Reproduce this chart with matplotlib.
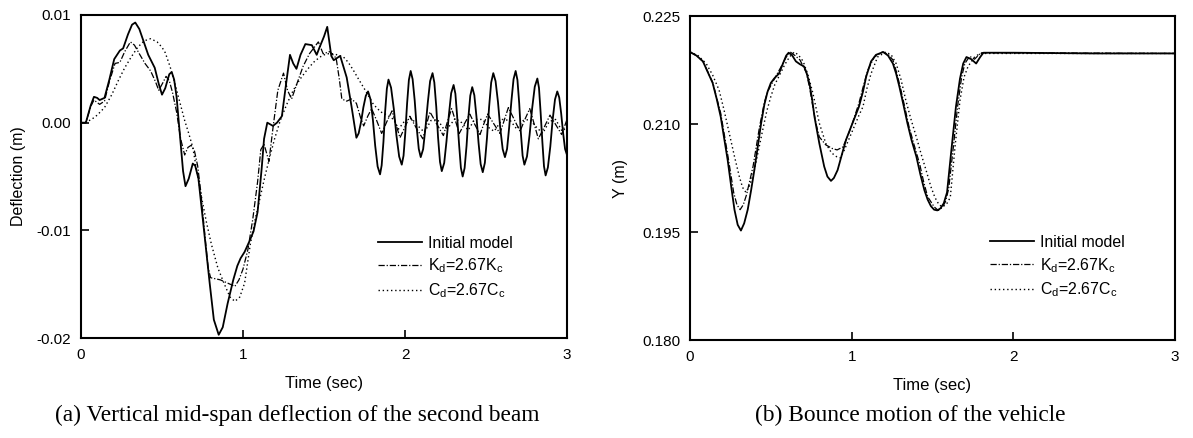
import matplotlib
matplotlib.use("Agg")
import matplotlib.pyplot as plt
import numpy as np

plt.rcParams['font.family'] = ['Liberation Sans', 'DejaVu Sans']
plt.rcParams['mathtext.fontset'] = 'custom'
plt.rcParams['mathtext.rm'] = 'Liberation Sans'
plt.rcParams['mathtext.it'] = 'Liberation Sans:italic'

# ---------------- Panel (a): mid-span deflection (values in mm, plotted in m) ----------------
a_init_t = [0.00, 0.03, 0.06, 0.08, 0.10, 0.115, 0.145, 0.175, 0.205, 0.24, 0.26, 0.29, 0.315, 0.335,
            0.36, 0.385, 0.415, 0.455, 0.48, 0.50, 0.52, 0.545, 0.56, 0.575, 0.59, 0.61, 0.63, 0.645,
            0.665, 0.69, 0.705, 0.725, 0.745, 0.77, 0.795, 0.82, 0.85, 0.875, 0.905, 0.94, 0.965,
            0.985, 1.01, 1.04, 1.065, 1.09, 1.115, 1.13, 1.15, 1.185, 1.21, 1.24, 1.265, 1.29, 1.31,
            1.33, 1.355, 1.385, 1.425, 1.455, 1.47, 1.50, 1.52, 1.545, 1.56, 1.60, 1.64, 1.67, 1.70,
            1.714, 1.729, 1.743, 1.758, 1.772, 1.787, 1.802, 1.816, 1.831, 1.846,
            1.856, 1.867, 1.877, 1.888, 1.898, 1.914, 1.931, 1.947, 1.964, 1.98,
            1.991, 2.002, 2.013, 2.024, 2.035, 2.047, 2.06, 2.072, 2.085, 2.097,
            2.112, 2.126, 2.141, 2.155, 2.17, 2.181, 2.193, 2.204, 2.216, 2.227,
            2.242, 2.256, 2.271, 2.285, 2.30, 2.311, 2.322, 2.334, 2.345, 2.356,
            2.368, 2.38, 2.391, 2.403, 2.415, 2.428, 2.441, 2.454, 2.467, 2.48,
            2.493, 2.506, 2.519, 2.532, 2.545, 2.559, 2.574, 2.588, 2.603, 2.617,
            2.63, 2.643, 2.657, 2.67, 2.683, 2.694, 2.705, 2.715, 2.726, 2.737,
            2.753, 2.769, 2.785, 2.801, 2.817, 2.827, 2.837, 2.848, 2.858, 2.868,
            2.882, 2.897, 2.911, 2.926, 2.94, 2.952, 2.964, 2.976, 2.988, 3.00]
a_init_y = [0.0, 0.0, 1.6, 2.4, 2.3, 2.1, 2.3, 4.0, 5.9, 6.7, 6.9, 8.2, 9.1, 9.3,
            8.7, 7.6, 6.3, 5.1, 3.6, 2.6, 3.2, 4.5, 4.7, 4.0, 2.4, -1.0, -4.5, -5.9,
            -5.2, -3.8, -4.0, -5.2, -8.0, -11.5, -15.0, -18.3, -19.7, -19.0, -16.8, -14.6, -13.3,
            -12.6, -12.0, -11.0, -10.1, -8.3, -4.3, -1.5, 0.0, -0.3, 0.0, 0.6, 3.5, 6.3, 5.5,
            5.0, 6.3, 7.3, 7.2, 6.3, 6.9, 8.0, 8.9, 6.2, 5.8, 6.2, 4.2, 1.5, -1.4,
            -0.99, 0.08, 1.42, 2.49, 2.9, 2.17, 0.24, -2.14, -4.07, -4.8,
            -3.96, -1.76, 0.96, 3.16, 4.0, 3.25, 1.27, -1.17, -3.15, -3.9,
            -3.07, -0.9, 1.8, 3.97, 4.8, 4.04, 2.04, -0.44, -2.44, -3.2,
            -2.46, -0.51, 1.91, 3.86, 4.6, 3.74, 1.46, -1.36, -3.64, -4.5,
            -3.74, -1.74, 0.74, 2.74, 3.5, 2.69, 0.57, -2.07, -4.19, -5.0,
            -4.21, -2.14, 0.44, 2.51, 3.3, 2.55, 0.57, -1.87, -3.85, -4.6,
            -3.73, -1.43, 1.43, 3.73, 4.6, 3.86, 1.91, -0.51, -2.46, -3.2,
            -2.44, -0.44, 2.04, 4.04, 4.8, 3.97, 1.8, -0.9, -3.07, -3.9,
            -3.14, -1.14, 1.34, 3.34, 4.1, 3.24, 0.99, -1.8, -4.05, -4.9,
            -4.16, -2.21, 0.21, 2.16, 2.9, 2.34, 0.86, -0.96, -2.44, -3.0]

a_kd_t = [0.00, 0.03, 0.06, 0.08, 0.115, 0.145, 0.175, 0.21, 0.24, 0.27, 0.305, 0.33, 0.36, 0.395,
          0.43, 0.46, 0.48, 0.505, 0.525, 0.545, 0.565, 0.59, 0.615, 0.64, 0.66, 0.68, 0.70, 0.72,
          0.74, 0.765, 0.785, 0.80, 0.83, 0.86, 0.89, 0.92, 0.95, 0.975, 1.00, 1.03, 1.06, 1.09,
          1.11, 1.13, 1.16, 1.185, 1.215, 1.25, 1.275, 1.30, 1.33, 1.37, 1.41, 1.44, 1.465, 1.495,
          1.535, 1.575, 1.595, 1.61, 1.64, 1.67, 1.70, 1.725, 1.745, 1.77, 1.794, 1.825, 1.856,
          1.888, 1.92, 1.945, 1.969, 2.00, 2.03, 2.07, 2.11, 2.132, 2.154, 2.195, 2.237, 2.262,
          2.288, 2.311, 2.335, 2.367, 2.40, 2.432, 2.463, 2.487, 2.51, 2.548, 2.586, 2.612, 2.638,
          2.674, 2.71, 2.74, 2.77, 2.797, 2.823, 2.86, 2.895, 2.931, 2.967, 3.00]
a_kd_y = [0.0, 0.0, 1.5, 2.1, 1.7, 2.0, 3.8, 5.5, 5.6, 6.6, 7.5, 7.2, 6.4, 5.5,
          4.8, 3.8, 3.0, 3.7, 4.3, 3.9, 2.8, 1.0, -1.5, -3.0, -2.3, -2.1, -2.6, -4.0,
          -6.5, -10.5, -13.5, -14.4, -14.5, -14.6, -14.8, -15.0, -15.2, -14.6, -13.6, -11.8, -9.0, -5.5,
          -2.5, -2.0, -3.6, -0.5, 3.0, 4.6, 3.0, 2.2, 3.5, 5.2, 6.4, 7.0, 7.5, 6.4,
          6.6, 6.0, 4.0, 2.2, 2.0, 2.2, 1.8, 0.5, -0.3, 0.6, 1.3, 0.2, -1.0,
          0.1, 1.1, -0.2, -1.4, -0.4, 0.6, -0.5, -1.5, -0.2, 1.0, -0.1, -1.2, 0.1,
          1.3, 0.2, -1.0, -0.1, 0.8, -0.2, -1.1, -0.1, 0.8, -0.1, -1.0, 0.2, 1.4,
          0.3, -0.8, 0.3, 1.3, -0.1, -1.5, -0.4, 0.7, -0.2, -1.1, 0.3]

a_cd_t = [0.00, 0.03, 0.065, 0.10, 0.145, 0.19, 0.23, 0.27, 0.31, 0.35, 0.39, 0.43, 0.47, 0.50,
          0.52, 0.55, 0.58, 0.61, 0.64, 0.665, 0.69, 0.715, 0.745, 0.775, 0.805, 0.845, 0.885,
          0.92, 0.95, 0.98, 1.01, 1.045, 1.075, 1.105, 1.135, 1.165, 1.195, 1.23, 1.27, 1.31,
          1.35, 1.395, 1.435, 1.475, 1.515, 1.56, 1.62, 1.65, 1.68, 1.715, 1.755, 1.805, 1.85,
          1.89, 1.93, 1.96, 2.00, 2.04, 2.08, 2.12, 2.16, 2.20, 2.24, 2.27, 2.31, 2.35, 2.39,
          2.43, 2.48, 2.52, 2.55, 2.60, 2.65, 2.69, 2.73, 2.77, 2.81, 2.85, 2.89, 2.93, 2.97, 3.00]
a_cd_y = [0.0, 0.05, 0.3, 0.7, 1.4, 2.6, 3.9, 5.1, 6.1, 7.0, 7.6, 7.8, 7.5, 7.0,
          6.5, 5.2, 3.6, 1.9, 0.2, -1.0, -2.3, -4.5, -7.0, -9.3, -11.3, -13.5, -15.0,
          -16.2, -16.6, -16.2, -14.9, -11.3, -9.0, -7.0, -5.0, -3.2, -1.5, 0.2, 1.7, 3.0,
          4.0, 4.9, 5.6, 6.1, 6.4, 6.4, 6.1, 5.6, 4.9, 4.0, 3.0, 1.7, 1.0,
          0.7, 0.3, -0.6, 0.2, 0.4, -0.3, -0.9, 0.2, 0.3, -0.6, -0.4, 0.4, 0.0, -0.7,
          0.3, 0.3, -0.5, -0.8, 0.3, 0.2, -0.6, 0.2, 0.3, -0.4, -1.0, 0.1, 0.3, -0.8, -0.4]

# ---------------- Panel (b): vehicle bounce Y (m) ----------------
b_init_t = [0.00, 0.04, 0.08, 0.11, 0.14, 0.165, 0.19, 0.21, 0.233, 0.255, 0.275, 0.295, 0.315, 0.335,
            0.357, 0.378, 0.398, 0.42, 0.44, 0.46, 0.48, 0.50, 0.52, 0.55, 0.575, 0.595, 0.61, 0.63,
            0.655, 0.68, 0.705, 0.72, 0.74, 0.755, 0.77, 0.80, 0.83, 0.85, 0.872, 0.89, 0.913, 0.94,
            0.965, 1.005, 1.045, 1.07, 1.09, 1.12, 1.15, 1.195, 1.225, 1.255, 1.275, 1.295, 1.32,
            1.345, 1.37, 1.40, 1.425, 1.45, 1.47, 1.49, 1.51, 1.53, 1.55, 1.57, 1.59, 1.615, 1.645,
            1.67, 1.69, 1.71, 1.74, 1.77, 1.795, 1.815, 2.0, 2.5, 3.0]
b_init_y = [0.2200, 0.2195, 0.2187, 0.2172, 0.2157, 0.2135, 0.2110, 0.2082, 0.2050, 0.2013, 0.1981,
            0.1960, 0.1952, 0.1962, 0.1981, 0.2008, 0.2036, 0.2070, 0.2101, 0.2127, 0.2145, 0.2157,
            0.2163, 0.2170, 0.2184, 0.2195, 0.2199, 0.2196, 0.2187, 0.2183, 0.2180, 0.2172, 0.2155,
            0.2135, 0.2110, 0.2073, 0.2041, 0.2027, 0.2021, 0.2025, 0.2036, 0.2058, 0.2078, 0.2101,
            0.2124, 0.2145, 0.2166, 0.2187, 0.2196, 0.2200, 0.2195, 0.2184, 0.2170, 0.2152, 0.2127,
            0.2101, 0.2078, 0.2055, 0.2030, 0.2008, 0.1995, 0.1986, 0.1981, 0.1980, 0.1983, 0.1990,
            0.2005, 0.2060, 0.2124, 0.2163, 0.2184, 0.2193, 0.2190, 0.2184, 0.2193, 0.2199, 0.2199,
            0.2198, 0.2198]

b_kd_t = [0.00, 0.04, 0.08, 0.14, 0.19, 0.235, 0.27, 0.29, 0.31, 0.33, 0.35, 0.39, 0.43, 0.46, 0.48,
          0.53, 0.56, 0.595, 0.62, 0.65, 0.68, 0.72, 0.74, 0.76, 0.78, 0.80, 0.84, 0.88, 0.91, 0.945,
          0.97, 1.00, 1.045, 1.075, 1.10, 1.14, 1.19, 1.225, 1.255, 1.28, 1.305, 1.33, 1.355, 1.385,
          1.42, 1.445, 1.47, 1.51, 1.535, 1.56, 1.58, 1.60, 1.63, 1.655, 1.68, 1.70, 1.73, 1.76,
          1.80, 3.00]
b_kd_y = [0.2200, 0.2195, 0.2187, 0.2158, 0.2115, 0.2055, 0.2005, 0.1988, 0.1981, 0.1988, 0.2002,
          0.2041, 0.2096, 0.2130, 0.2145, 0.2166, 0.2178, 0.2193, 0.2200, 0.2195, 0.2189, 0.2171,
          0.2150, 0.2124, 0.2100, 0.2082, 0.2071, 0.2066, 0.2064, 0.2068, 0.2080, 0.2098, 0.2129,
          0.2155, 0.2175, 0.2193, 0.2200, 0.2197, 0.2189, 0.2170, 0.2147, 0.2122, 0.2096, 0.2072,
          0.2045, 0.2020, 0.1999, 0.1985, 0.1980, 0.1984, 0.1992, 0.2010, 0.2070, 0.2124, 0.2165,
          0.2184, 0.2194, 0.2190, 0.2199, 0.2198]

b_cd_t = [0.00, 0.05, 0.10, 0.14, 0.18, 0.21, 0.243, 0.275, 0.305, 0.325, 0.346, 0.37, 0.398, 0.425,
          0.45, 0.475, 0.50, 0.525, 0.55, 0.585, 0.615, 0.645, 0.67, 0.70, 0.73, 0.76, 0.78, 0.80,
          0.84, 0.875, 0.91, 0.93, 0.955, 0.985, 1.015, 1.045, 1.07, 1.095, 1.12, 1.16, 1.21, 1.245,
          1.275, 1.305, 1.335, 1.365, 1.40, 1.43, 1.46, 1.49, 1.515, 1.54, 1.56, 1.585, 1.61, 1.64,
          1.67, 1.695, 1.72, 1.76, 1.795, 3.00]
b_cd_y = [0.2200, 0.2195, 0.2184, 0.2168, 0.2147, 0.2120, 0.2087, 0.2055, 0.2027, 0.2012, 0.2005,
          0.2015, 0.2036, 0.2065, 0.2092, 0.2118, 0.2138, 0.2155, 0.2166, 0.2182, 0.2193, 0.2200,
          0.2196, 0.2187, 0.2168, 0.2143, 0.2122, 0.2101, 0.2073, 0.2060, 0.2054, 0.2053, 0.2064,
          0.2080, 0.2096, 0.2112, 0.2124, 0.2150, 0.2170, 0.2193, 0.2200, 0.2196, 0.2184, 0.2162,
          0.2133, 0.2108, 0.2082, 0.2058, 0.2036, 0.2013, 0.1998, 0.1988, 0.1985, 0.1988, 0.1998,
          0.2070, 0.2133, 0.2165, 0.2180, 0.2193, 0.2198, 0.2198]

legend_labels = ["Initial model", r"K$_\mathregular{d}$=2.67K$_\mathregular{c}$",
                 r"C$_\mathregular{d}$=2.67C$_\mathregular{c}$"]
x_ticks = [0, 1, 2, 3]
a_yticks = [0.01, 0.00, -0.01, -0.02]
a_yticklabels = ["0.01", "0.00", "-0.01", "-0.02"]
b_yticks = [0.225, 0.210, 0.195, 0.180]
b_yticklabels = ["0.225", "0.210", "0.195", "0.180"]

fig = plt.figure(figsize=(11.93, 4.38), dpi=100)
ax1 = fig.add_axes([81/1193, 1-338/438, 486/1193, 323/438])
ax2 = fig.add_axes([690/1193, 1-340/438, 485/1193, 324/438])

styles = [dict(color='black', lw=1.3, ls='-'),
          dict(color='black', lw=0.9, ls=(0, (5, 1.5, 1, 1.5))),
          dict(color='black', lw=1.0, ls=(0, (1, 2)))]

ax1.plot(a_init_t, np.array(a_init_y) * 1e-3, **styles[0], label=legend_labels[0])
ax1.plot(a_kd_t, np.array(a_kd_y) * 1e-3, **styles[1], label=legend_labels[1])
ax1.plot(a_cd_t, np.array(a_cd_y) * 1e-3, **styles[2], label=legend_labels[2])
ax1.set_ylim(-0.02, 0.01)
ax1.set_yticks(a_yticks)
ax1.set_yticklabels(a_yticklabels)
ax1.set_ylabel("Deflection (m)", fontsize=11.5, labelpad=8)

ax2.plot(b_init_t, b_init_y, **styles[0], label=legend_labels[0])
ax2.plot(b_kd_t, b_kd_y, **styles[1], label=legend_labels[1])
ax2.plot(b_cd_t, b_cd_y, **styles[2], label=legend_labels[2])
ax2.set_ylim(0.180, 0.225)
ax2.set_yticks(b_yticks)
ax2.set_yticklabels(b_yticklabels)
ax2.set_ylabel("Y (m)", fontsize=11.5, labelpad=10)

legend_anchor = {ax1: (0.588, 0.217), ax2: (0.595, 0.225)}
for ax in (ax1, ax2):
    ax.set_xlim(0, 3)
    ax.set_xticks(x_ticks)
    ax.set_xticklabels([str(v) for v in x_ticks])
    ax.tick_params(direction='in', length=6, width=1.2, labelsize=11, pad=7)
    ax.set_xlabel("Time (sec)", fontsize=12, labelpad=10)
    for s in ax.spines.values():
        s.set_linewidth(1.5)
    ax.legend(loc='center left', bbox_to_anchor=legend_anchor[ax], frameon=False, fontsize=11.4,
              handlelength=2.8, handletextpad=0.35, labelspacing=0.37, borderpad=0.2)

fig.text(297/1193, 1-415/438, "(a) Vertical mid-span deflection of the second beam",
         ha='center', va='center', fontsize=16.8, family=['Liberation Serif'])
fig.text(910/1193, 1-415/438, "(b) Bounce motion of the vehicle",
         ha='center', va='center', fontsize=16.8, family=['Liberation Serif'])

fig.savefig("out.png", dpi=100)
